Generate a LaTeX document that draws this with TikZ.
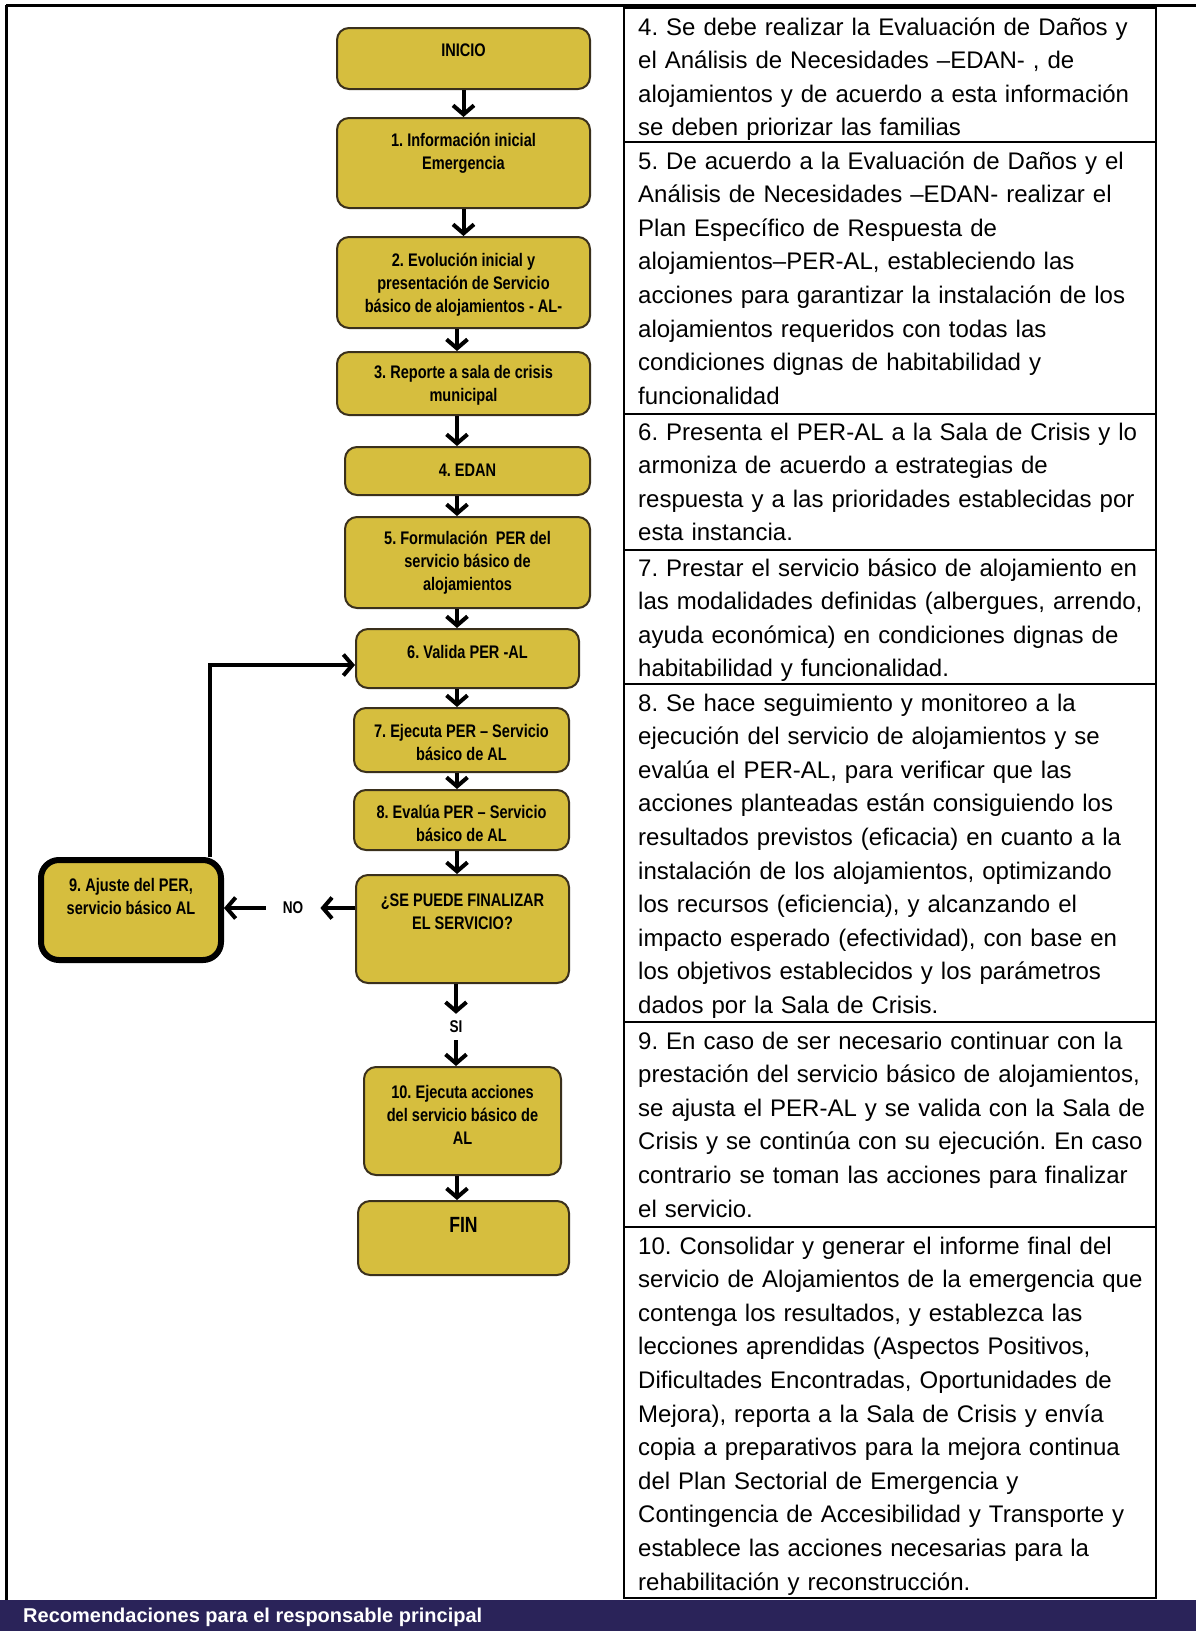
\documentclass[tikz,border=0pt]{standalone}
\usepackage{fontspec}
\setmainfont{Liberation Sans}
\newfontfamily\flujo[FakeStretch=0.8]{Liberation Sans}
\usepackage{tikz}
\usetikzlibrary{arrows.meta}
\frenchspacing

\definecolor{mostaza}{RGB}{214,190,62}
\definecolor{bordecaja}{RGB}{58,48,28}
\definecolor{franja}{RGB}{42,35,89}

\begin{document}
\begin{tikzpicture}[x=1pt, y=-1pt, >={Straight Barb[length=9pt,width=21pt]},
    caja/.style={draw=bordecaja, line width=2pt, fill=mostaza, rounded corners=12pt},
    etq/.style={font=\flujo\bfseries\fontsize{18.2}{23}\selectfont, align=center, inner sep=0pt},
    flecha/.style={->, line width=4pt},
    celda/.style={anchor=base west, align=left, text width=520pt, inner sep=0pt,
                  font=\fontsize{24}{33.6}\selectfont},
    marco/.style={line width=3pt}]
  \useasboundingbox (0,0) rectangle (1196,1631);

  % table frame
  \draw[marco] (6,5) -- (1196,5);
  \draw[marco] (6,5) -- (6,1600);
  \draw[line width=2.5pt] (624,8) rectangle (1156,1598);
  \foreach \y in {142,414,550,684,1022,1227}
    \draw[line width=2pt] (624,\y) -- (1156,\y);

  % bottom band
  \fill[franja] (0,1600) rectangle (1196,1631);
  \node[anchor=west, text=white, inner sep=0pt,
        font=\bfseries\fontsize{20}{24}\selectfont] (reco) at (23,1617)
     {Recomendaciones para el responsable principal};

  % flow boxes
  \node[caja, minimum width=253pt, minimum height=61pt] (ini) at (463.5,58.5) {};
  \node[etq] (ini-t) at (463.5,50) {INICIO};

  \node[caja, minimum width=253pt, minimum height=90pt] (inf) at (463.5,163) {};
  \node[etq] (inf-t) at (463.5,153.5) {1. Información inicial\\Emergencia};

  \node[caja, minimum width=253pt, minimum height=91pt] (evo) at (463.5,282.5) {};
  \node[etq] (evo-t) at (463.5,285) {2. Evolución inicial y\\presentación de Servicio\\básico de alojamientos - AL-};

  \node[caja, minimum width=253pt, minimum height=63pt] (rep) at (463.5,383.5) {};
  \node[etq] (rep-t) at (463.5,385) {3. Reporte a sala de crisis\\municipal};

  \node[caja, minimum width=245pt, minimum height=48pt] (edan) at (467.5,471) {};
  \node[etq] (edan-t) at (467.5,470) {4. EDAN};

  \node[caja, minimum width=245pt, minimum height=91pt] (form) at (467.5,562.5) {};
  \node[etq] (form-t) at (467.5,563) {5. Formulación\ \ PER del\\servicio básico de\\alojamientos};

  \node[caja, minimum width=223pt, minimum height=59pt] (val) at (467.5,658.5) {};
  \node[etq] (val-t) at (467.5,652) {6. Valida PER -AL};

  \node[caja, minimum width=215pt, minimum height=64pt] (eje) at (461.5,740) {};
  \node[etq] (eje-t) at (461.5,742) {7. Ejecuta PER – Servicio\\básico de AL};

  \node[caja, minimum width=215pt, minimum height=60pt] (eva) at (461.5,820) {};
  \node[etq] (eva-t) at (461.5,823) {8. Evalúa PER – Servicio\\básico de AL};

  \node[caja, minimum width=213pt, minimum height=108pt] (dec) at (462.5,929) {};
  \node[etq] (dec-t) at (462.5,911.5) {¿SE PUEDE FINALIZAR\\EL SERVICIO?};

  \node[caja, draw=black, line width=6pt, rounded corners=18pt,
        minimum width=180pt, minimum height=100pt] (aju) at (131,910) {};
  \node[etq] (aju-t) at (131,896) {9. Ajuste del PER,\\servicio básico AL};

  \node[caja, minimum width=197pt, minimum height=108pt] (acc) at (462.5,1121) {};
  \node[etq] (acc-t) at (462.5,1115) {10. Ejecuta acciones\\del servicio básico de\\AL};

  \node[caja, minimum width=211pt, minimum height=74pt] (fin) at (463.5,1238) {};
  \node[etq, font=\flujo\bfseries\fontsize{22}{26}\selectfont] (fin-t) at (463.5,1225) {FIN};

  % connectors
  \coordinate (col) at (457,0);
  \draw[flecha] (ini.south) -- (ini.south |- inf.north);
  \draw[flecha] (inf.south) -- (inf.south |- evo.north);
  \foreach \a/\b in {evo/rep, rep/edan, edan/form, form/val, val/eje, eje/eva, eva/dec, acc/fin}
    \draw[flecha] (\a.south -| col) -- (\b.north -| col);

  % NO branch and loop back
  \node[etq, font=\flujo\bfseries\fontsize{17}{20}\selectfont, inner xsep=17pt] (no) at (293,908) {NO};
  \draw[flecha] (dec.west |- no) -- (no.east);
  \draw[flecha] (no.west) -- (no -| aju.east);
  \draw[flecha] ([xshift=79pt]aju.north) |- ([yshift=-6.5pt]val.west);

  % SI branch
  \node[etq, font=\flujo\bfseries\fontsize{17}{20}\selectfont, inner ysep=7pt] (si) at (456,1027) {SI};
  \draw[flecha] (dec.south -| si) -- (si.north);
  \draw[flecha] (si.south) -- (si |- acc.north);

  % text column
  \node[celda] (t4) at (638,35) {4. Se debe realizar la Evaluación de Daños y\\
    el Análisis de Necesidades –EDAN- , de\\
    alojamientos y de acuerdo a esta información\\
    se deben priorizar las familias};
  \node[celda] (t5) at (638,169) {5. De acuerdo a la Evaluación de Daños y el\\
    Análisis de Necesidades –EDAN- realizar el\\
    Plan Específico de Respuesta de\\
    alojamientos–PER-AL, estableciendo las\\
    acciones para garantizar la instalación de los\\
    alojamientos requeridos con todas las\\
    condiciones dignas de habitabilidad y\\
    funcionalidad};
  \node[celda] (t6) at (638,440) {6. Presenta el PER-AL a la Sala de Crisis y lo\\
    armoniza de acuerdo a estrategias de\\
    respuesta y a las prioridades establecidas por\\
    esta instancia.};
  \node[celda] (t7) at (638,576) {\makebox[503pt][s]{7. Prestar el servicio básico de alojamiento en}\\
    \makebox[503pt][s]{las modalidades definidas (albergues, arrendo,}\\
    \makebox[503pt][s]{ayuda económica) en condiciones dignas de}\\
    habitabilidad y funcionalidad.};
  \node[celda] (t8) at (638,711) {8. Se hace seguimiento y monitoreo a la\\
    ejecución del servicio de alojamientos y se\\
    evalúa el PER-AL, para verificar que las\\
    acciones planteadas están consiguiendo los\\
    resultados previstos (eficacia) en cuanto a la\\
    instalación de los alojamientos, optimizando\\
    los recursos (eficiencia), y alcanzando el\\
    impacto esperado (efectividad), con base en\\
    los objetivos establecidos y los parámetros\\
    dados por la Sala de Crisis.};
  \node[celda] (t9) at (638,1049) {9. En caso de ser necesario continuar con la\\
    prestación del servicio básico de alojamientos,\\
    se ajusta el PER-AL y se valida con la Sala de\\
    Crisis y se continúa con su ejecución. En caso\\
    contrario se toman las acciones para finalizar\\
    el servicio.};
  \node[celda] (t10) at (638,1254) {10. Consolidar y generar el informe final del\\
    servicio de Alojamientos de la emergencia que\\
    contenga los resultados, y establezca las\\
    lecciones aprendidas (Aspectos Positivos,\\
    Dificultades Encontradas, Oportunidades de\\
    Mejora), reporta a la Sala de Crisis y envía\\
    copia a preparativos para la mejora continua\\
    del Plan Sectorial de Emergencia y\\
    Contingencia de Accesibilidad y Transporte y\\
    establece las acciones necesarias para la\\
    rehabilitación y reconstrucción.};
\end{tikzpicture}
\end{document}
